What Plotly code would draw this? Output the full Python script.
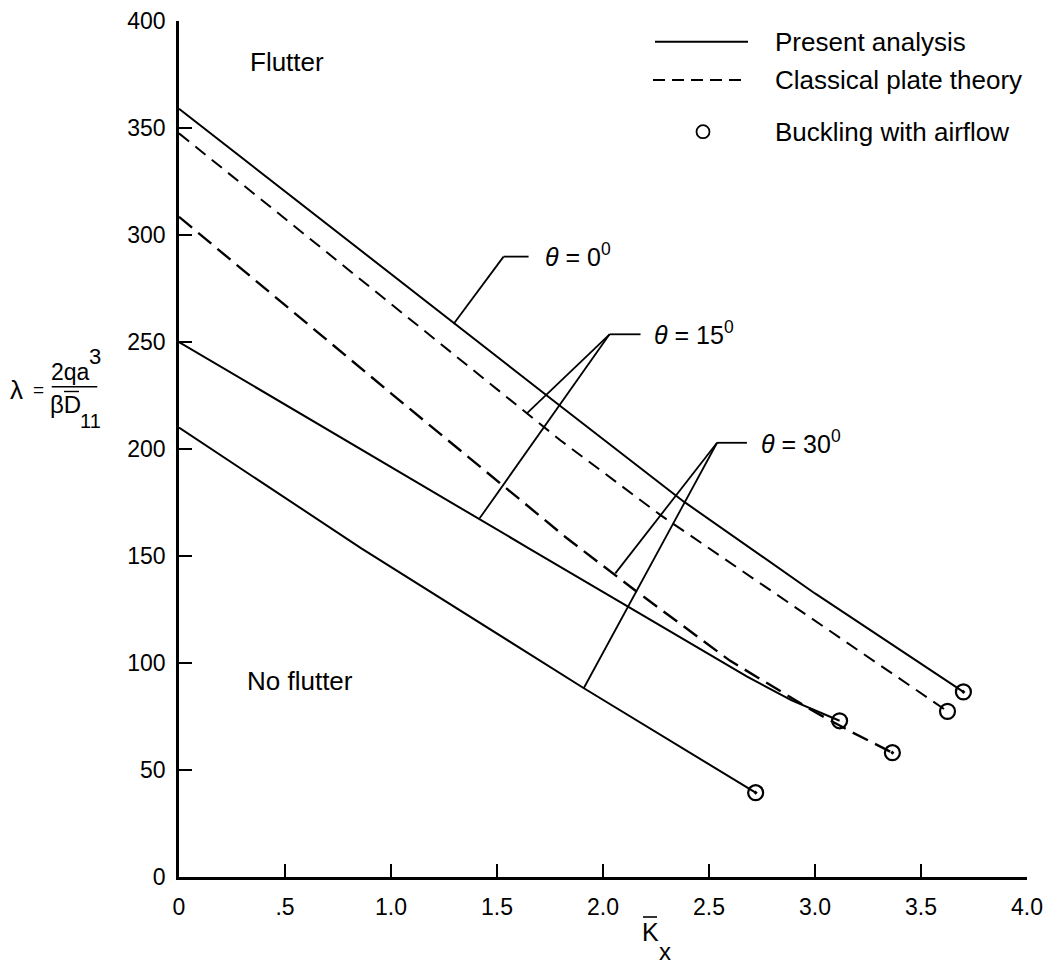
import plotly.graph_objects as go

# ---------------- data ----------------
kx_t0_present = [0.0, 1.30, 1.80, 2.38, 3.00, 3.70]
lam_t0_present = [359.0, 258.5, 220.0, 175.5, 132.5, 86.5]

kx_t15_present = [0.0, 1.22, 1.65, 2.13, 2.68, 2.89, 3.116]
lam_t15_present = [250.0, 178.5, 153.6, 125.6, 93.6, 82.5, 73.0]

kx_t30_present = [0.0, 0.86, 1.91, 2.72]
lam_t30_present = [210.0, 153.6, 88.2, 39.4]

kx_t15_classical = [0.0, 1.80, 2.27, 3.03, 3.625]
lam_t15_classical = [347.5, 204.0, 169.2, 117.8, 77.4]

kx_t30_classical = [0.0, 1.00, 1.83, 2.16, 2.60, 3.01, 3.17, 3.365]
lam_t30_classical = [308.5, 226.0, 158.3, 133.3, 101.0, 76.5, 67.9, 58.1]

# buckling with airflow points (with / without centre dot)
kx_buckle_dot = [3.70, 3.365, 2.72]
lam_buckle_dot = [86.5, 58.1, 39.4]
kx_buckle_open = [3.625, 3.116]
lam_buckle_open = [77.4, 73.0]

x_tickvals = [0, 0.5, 1.0, 1.5, 2.0, 2.5, 3.0, 3.5, 4.0]
x_ticktext = ["0", ".5", "1.0", "1.5", "2.0", "2.5", "3.0", "3.5", "4.0"]
y_tickvals = [0, 50, 100, 150, 200, 250, 300, 350, 400]

# ---------------- layout helpers ----------------
FONT = "Liberation Sans, Arial, sans-serif"
W, H = 1063, 965
L, R, T, B = 179, 36, 21, 88
PW, PH = W - L - R, H - T - B


def px(x):
    return (x - L) / PW


def py(y):
    return (T + PH - y) / PH


fig = go.Figure()

line_style = dict(color="black", width=2)
for xs, ys in [(kx_t0_present, lam_t0_present),
               (kx_t15_present, lam_t15_present),
               (kx_t30_present, lam_t30_present)]:
    fig.add_trace(go.Scatter(x=xs, y=ys, mode="lines", line=line_style,
                             showlegend=False, hoverinfo="skip"))

fig.add_trace(go.Scatter(x=kx_t15_classical, y=lam_t15_classical, mode="lines",
                         line=dict(color="black", width=2, dash="13px,8px"),
                         showlegend=False, hoverinfo="skip"))
fig.add_trace(go.Scatter(x=kx_t30_classical, y=lam_t30_classical, mode="lines",
                         line=dict(color="black", width=2.4, dash="17px,8px"),
                         showlegend=False, hoverinfo="skip"))

fig.add_trace(go.Scatter(x=kx_buckle_dot, y=lam_buckle_dot, mode="markers",
                         marker=dict(symbol="circle-open-dot", size=15, color="black",
                                     line=dict(color="black", width=2.2)),
                         showlegend=False, hoverinfo="skip", cliponaxis=False))
fig.add_trace(go.Scatter(x=kx_buckle_open, y=lam_buckle_open, mode="markers",
                         marker=dict(symbol="circle-open", size=15, color="black",
                                     line=dict(color="black", width=2.2)),
                         showlegend=False, hoverinfo="skip", cliponaxis=False))

shapes = []
annotations = []

# leader lines for the theta labels (data coordinates)
leaders = [
    [(1.295, 258.4), (1.531, 289.9), (1.649, 289.9)],
    [(1.642, 216.8), (2.031, 253.6), (2.177, 253.6)],
    [(1.418, 167.6), (2.031, 253.6)],
    [(2.058, 141.9), (2.538, 202.9), (2.679, 202.9)],
    [(1.909, 88.2), (2.538, 202.9)],
]
for pts in leaders:
    for (xa, ya), (xb, yb) in zip(pts[:-1], pts[1:]):
        shapes.append(dict(type="line", xref="x", yref="y", x0=xa, y0=ya, x1=xb, y1=yb,
                           line=dict(color="black", width=1.8)))

theta_labels = [
    (1.718, 290.5, "<i>θ</i> = 0<sup>0</sup>"),
    (2.231, 254.2, "<i>θ</i> = 15<sup>0</sup>"),
    (2.734, 203.5, "<i>θ</i> = 30<sup>0</sup>"),
]
for xx, yy, tt in theta_labels:
    annotations.append(dict(x=xx, y=yy, xref="x", yref="y", text=tt, showarrow=False,
                            xanchor="left", yanchor="middle",
                            font=dict(family=FONT, size=25, color="black")))

# region labels
annotations.append(dict(x=0.508, y=381.0, xref="x", yref="y", text="Flutter", showarrow=False,
                        font=dict(family=FONT, size=26, color="black")))
annotations.append(dict(x=0.57, y=91.5, xref="x", yref="y", text="No flutter", showarrow=False,
                        font=dict(family=FONT, size=26, color="black")))

# legend (drawn by hand)
shapes.append(dict(type="line", xref="paper", yref="paper", x0=px(655), x1=px(748),
                   y0=py(41.7), y1=py(41.7), line=dict(color="black", width=2)))
shapes.append(dict(type="line", xref="paper", yref="paper", x0=px(653), x1=px(748),
                   y0=py(80), y1=py(80), line=dict(color="black", width=2, dash="12px,7px")))
shapes.append(dict(type="circle", xref="paper", yref="paper",
                   x0=px(703 - 6.5), x1=px(703 + 6.5), y0=py(131.7 + 6.5), y1=py(131.7 - 6.5),
                   line=dict(color="black", width=1.8)))
for yy, tt in [(41.7, "Present analysis"), (80, "Classical plate theory"),
               (131.7, "Buckling with airflow")]:
    annotations.append(dict(x=px(773), y=py(yy), xref="paper", yref="paper", text=tt,
                            showarrow=False, xanchor="left", yanchor="middle",
                            font=dict(family=FONT, size=26, color="black")))

# y-axis title: lambda = 2qa^3 / (beta D11), and x-axis title K_x
annotations += [
    dict(x=px(16), y=py(390), text="λ", size=26),
    dict(x=px(38), y=py(389), text="=", size=19),
    dict(x=px(70.5), y=py(372), text="2qa", size=23),
    dict(x=px(95), y=py(356), text="3", size=22),
    dict(x=px(66), y=py(404), text="βD", size=24),
    dict(x=px(90), y=py(421), text="11", size=20),
    dict(x=px(650), y=py(932), text="K", size=25),
    dict(x=px(665), y=py(951), text="x", size=24),
]
for a in annotations[-8:]:
    s = a.pop("size")
    a.update(xref="paper", yref="paper", showarrow=False, xanchor="center", yanchor="middle",
             font=dict(family=FONT, size=s, color="black"))

shapes.append(dict(type="line", xref="paper", yref="paper", x0=px(51.7), x1=px(97.3),
                   y0=py(386.7), y1=py(386.7), line=dict(color="black", width=1.6)))
shapes.append(dict(type="line", xref="paper", yref="paper", x0=px(64), x1=px(79),
                   y0=py(391.5), y1=py(391.5), line=dict(color="black", width=1.4)))
shapes.append(dict(type="line", xref="paper", yref="paper", x0=px(643), x1=px(657),
                   y0=py(917), y1=py(917), line=dict(color="black", width=1.6)))

axis_common = dict(showline=True, linecolor="black", linewidth=2.6, ticks="inside",
                   ticklen=13, tickwidth=2, tickcolor="black", showgrid=False,
                   zeroline=False, automargin=False,
                   tickfont=dict(family=FONT, size=23, color="black"))

fig.update_layout(
    width=W, height=H,
    margin=dict(l=L, r=R, t=T, b=B),
    paper_bgcolor="white", plot_bgcolor="white",
    showlegend=False,
    xaxis=dict(range=[0, 4], tickvals=x_tickvals, ticktext=x_ticktext,
               ticklabelstandoff=8, **axis_common),
    yaxis=dict(range=[0, 400], tickvals=y_tickvals, ticklabelstandoff=6, **axis_common),
    shapes=shapes,
    annotations=annotations,
)

fig.write_html("out.html",
               config={"displayModeBar": False},
               post_script="document.body.style.margin='0px';document.body.style.padding='0px';")
